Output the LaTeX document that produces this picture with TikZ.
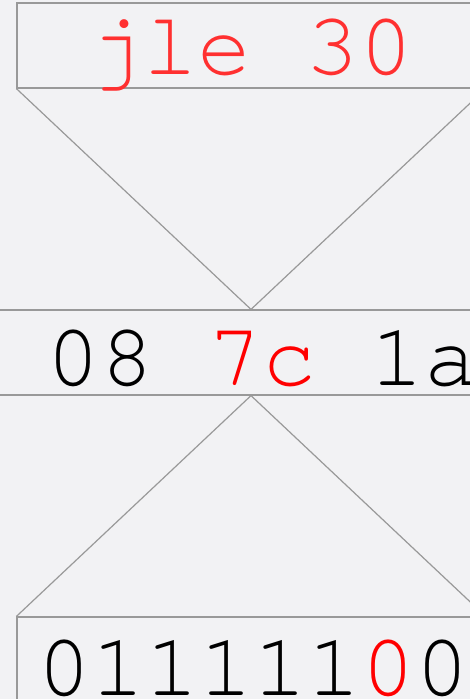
\documentclass[tikz,border=0pt]{standalone}
\usepackage{fontspec}
\setmonofont{texgyrecursor-regular.otf}
\usepackage{xcolor}
\usepackage{tikz}
\usetikzlibrary{positioning, calc}
\definecolor{bgpanel}{RGB}{242, 242, 244}
\definecolor{framegray}{RGB}{153, 153, 153}
\definecolor{opred}{RGB}{255, 48, 48}
\definecolor{bitred}{RGB}{255, 0, 0}

\begin{document}
\begin{tikzpicture}[
			x=1pt, y=-1pt,
			field/.style={rectangle, draw=framegray, line width=1.2pt, inner sep=0pt},
			hexfont/.style={font=\fontsize{90}{90}\selectfont\ttfamily, inner sep=0pt},
			zoomline/.style={draw=framegray, line width=1.2pt}
		]
		\fill[bgpanel] (0,0) rectangle (470,699);
		\useasboundingbox (0,0) rectangle (470,699);
		\clip (0,0) rectangle (470,699);
		
		\node[field, minimum width=468pt, minimum height=85pt] (instr) at (251,45.5) {};
		\node[field, minimum width=640pt, minimum height=85pt] (bytes) at (251,352.5) {};
		\node[field, minimum width=468pt, minimum height=120pt] (bits) at (251,677) {};
		
		% Texts
		\node[hexfont, anchor=base, text=opred] (mnem) at (251,74) {jle 30};
		\node[hexfont, anchor=base west] (hex) at (46,385) {08 \textcolor{bitred}{7c} 1a};
		\node[hexfont, anchor=base west] (bin) at (37,695) {011111\textcolor{bitred}{0}0};
		
		\draw[zoomline] (instr.south west) -- (bytes.north) -- (instr.south east);
		\draw[zoomline] (bits.north west) -- (bytes.south) -- (bits.north east);
		\end{tikzpicture}
\end{document}
